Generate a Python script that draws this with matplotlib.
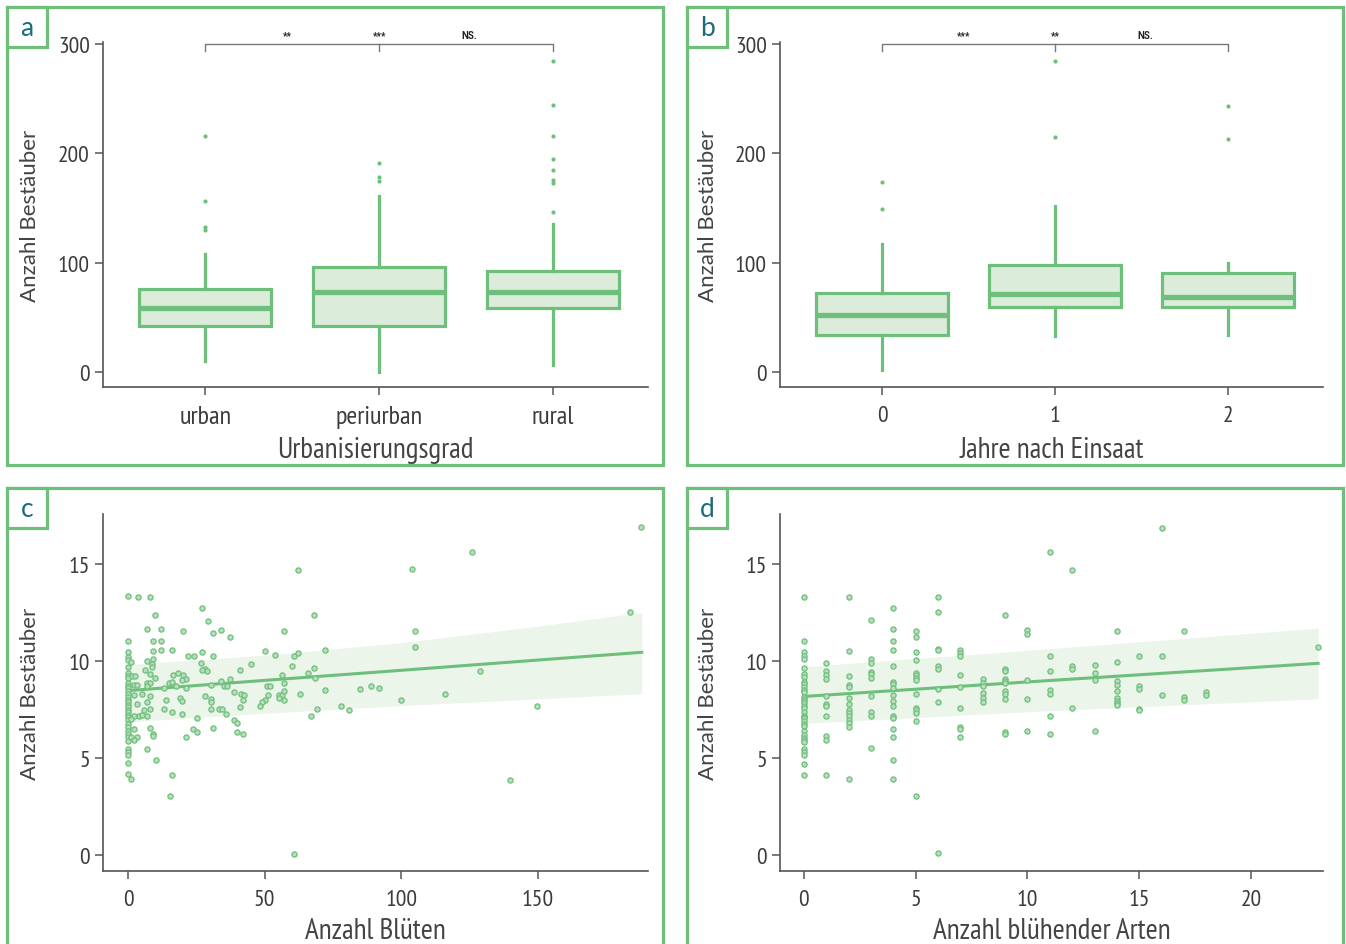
import numpy as np
import matplotlib
matplotlib.use('Agg')
import matplotlib.pyplot as plt
from matplotlib.patches import Rectangle

COND = ['PT Sans Narrow', 'Roboto Condensed', 'Fira Sans Condensed',
        'Liberation Sans Narrow', 'Roboto', 'DejaVu Sans']
REG = ['Lato', 'Open Sans', 'DejaVu Sans']

plt.rcParams.update({
    'font.family': COND,
    'font.size': 14,
    'axes.edgecolor': '#555555',
    'xtick.color': '#555555',
    'ytick.color': '#555555',
    'xtick.labelcolor': '#3c3c3c',
    'ytick.labelcolor': '#3c3c3c',
})

GREEN = '#6dbf7b'
FILL = '#dcecda'
BAND = '#ebf5ea'
TEAL = '#1a6b7c'

# ---- data: boxplots (whislo, q1, median, q3, whishi, fliers)
cat_a = ['urban', 'periurban', 'rural']
box_a = [
    (10, 42, 58, 76, 108, [130, 133, 156, 216]),
    (0, 42, 73, 96, 161, [175, 178, 191]),
    (6, 58, 73, 92, 135, [146, 173, 176, 185, 195, 216, 244, 285]),
]
sig_a = ['**', '***', 'NS.']

cat_b = ['0', '1', '2']
box_b = [
    (2, 34, 52, 72, 117, [149, 174]),
    (33, 59, 71, 98, 152, [215, 285]),
    (34, 59, 68, 90, 100, [213, 243]),
]
sig_b = ['***', '**', 'NS.']

# ---- data: panel c, Anzahl Blüten vs Anzahl Bestäuber
c_x0_y = [13.34, 11.03, 10.47, 10.19, 10.07, 9.67, 9.37, 9.24, 9.14, 8.87, 8.73, 8.61,
          8.44, 8.28, 8.13, 7.99, 7.87, 7.73, 7.61, 7.49, 7.35, 7.21, 7.09, 6.96, 6.75,
          6.58, 6.4, 6.23, 6.09, 5.89, 5.46, 5.32, 5.15, 4.72, 4.15]
c_x = [1.22, 3.78, 8.05, 10.0, 7.07, 12.2, 19.99, 27.07, 29.27, 31.1, 33.9, 9.02, 12.2,
       9.02, 12.2, 16.1, 22.07, 24.27, 27.07, 30.99, 26.83, 28.17, 29.0, 26.95, 6.95,
       9.02, 8.9, 8.9, 6.1, 8.17, 10.0, 1.34, 2.44, 2.2, 3.41, 7.07, 8.05, 7.07, 5.12,
       7.93, 2.32, 3.17, 6.95, 5.98, 8.05, 3.9, 5.12, 6.95, 2.32, 1.1, 13.17, 15.13,
       16.35, 18.43, 19.99, 21.34, 19.87, 16.22, 17.44, 21.1, 19.0, 19.6, 14.0, 13.17,
       16.1, 19.6, 25.24, 28.17, 30.24, 30.24, 30.37, 30.24, 33.17, 34.27, 33.9, 35.2,
       2.32, 1.22, 3.29, 2.32, 7.93, 9.27, 9.27, 6.95, 10.24, 1.22, 16.22, 15.5, 21.1,
       23.9, 25.1, 31.0,
       37.2, 62.3, 68.06, 56.96, 72.2, 50.0, 53.9, 60.74, 62.08, 45.1, 41.1, 60.1, 68.06,
       66.0, 56.2, 68.3, 37.2, 36.2, 56.96, 50.9, 51.96, 38.9, 41.2, 42.4, 42.2, 51.2,
       55.25, 56.35, 57.2, 55.25, 57.2, 63.0, 50.25, 49.0, 48.2, 41.1, 72.1, 35.97,
       69.15, 66.8, 38.9, 40.0, 40.0, 42.2, 60.86,
       187.8, 125.9, 104.0, 183.7, 105.1, 105.1, 129.0, 84.9, 89.0, 92.0, 100.0, 116.0,
       78.1, 80.9, 149.8, 139.9]
c_y = [9.93, 13.29, 13.29, 12.38, 11.64, 11.65, 11.55, 12.74, 12.08, 11.46, 11.62, 11.02,
       11.02, 10.52, 10.59, 10.55, 10.28, 10.24, 10.48, 10.28, 9.92, 9.57, 9.47, 9.55,
       10.02, 10.09, 9.86, 9.67, 9.54, 9.35, 9.14, 9.24, 9.24, 8.76, 8.76, 8.87, 8.85,
       8.73, 8.3, 8.19, 8.25, 7.76, 7.88, 7.47, 7.51, 7.16, 7.23, 7.16, 7.18, 7.02, 8.59,
       8.87, 9.28, 9.37, 9.28, 9.07, 9.02, 8.93, 8.71, 8.59, 8.07, 7.95, 7.99, 7.54, 7.37,
       7.28, 7.08, 8.21, 8.76, 8.06, 7.87, 7.54, 7.54, 7.54, 8.97, 8.71, 6.47, 6.09, 6.09,
       5.92, 6.56, 6.25, 6.15, 5.48, 4.89, 3.89, 4.12, 3.01, 6.08, 6.49, 6.34, 6.56,
       11.26, 14.68, 12.36, 11.55, 10.59, 10.52, 10.31, 10.28, 10.4, 9.83, 9.52, 9.73,
       9.62, 9.37, 9.26, 9.12, 9.07, 8.71, 8.87, 8.71, 8.69, 8.38, 8.32, 8.26, 7.97, 8.25,
       8.25, 8.25, 8.44, 8.07, 7.97, 8.32, 8.0, 7.87, 7.68, 7.64, 8.51, 7.28, 7.54, 7.14,
       6.94, 6.8, 6.33, 6.23, 0.04,
       16.92, 15.65, 14.73, 12.55, 11.55, 10.71, 9.47, 8.57, 8.69, 8.59, 8.0, 8.31,
       7.66, 7.45, 7.66, 3.88]
c_fit_x = [0, 50, 100, 150, 188]
c_fit_y = [8.47, 9.0, 9.52, 10.05, 10.45]
c_band_lo = [6.86, 7.3, 7.7, 8.05, 8.31]
c_band_hi = [9.82, 10.3, 10.95, 11.8, 12.51]

# ---- data: panel d, Anzahl blühender Arten vs Anzahl Bestäuber (per species count)
d_cols = {
    0: [13.3, 11.02, 10.45, 10.24, 10.1, 9.66, 9.33, 9.19, 8.93, 8.8, 8.67, 8.52, 8.4,
        8.16, 8.05, 7.95, 7.81, 7.69, 7.57, 7.35, 7.18, 7.1, 7.04, 6.9, 6.75, 6.63, 6.4,
        6.18, 6.04, 5.94, 5.83, 5.46, 5.28, 5.15, 4.7, 4.13],
    1: [9.91, 9.5, 9.26, 9.05, 8.18, 7.8, 7.66, 7.18, 6.11, 5.92, 4.13],
    2: [13.29, 10.52, 9.21, 8.76, 8.67, 8.09, 7.76, 7.47, 7.3, 7.14, 6.97, 6.8, 6.58, 3.92],
    3: [12.1, 10.1, 9.9, 9.45, 9.31, 9.12, 8.19, 7.35, 7.16, 5.49],
    4: [12.74, 11.67, 11.02, 10.57, 9.73, 8.93, 8.8, 8.62, 8.25, 7.95, 7.66, 7.18, 7.06,
        6.49, 6.08, 4.89, 3.89],
    5: [11.55, 11.22, 10.48, 10.04, 9.36, 9.29, 9.1, 9.04, 8.31, 7.6, 7.49, 7.31, 6.92, 3.03],
    6: [13.28, 12.53, 10.6, 10.58, 9.74, 9.59, 8.57, 7.88, 0.07],
    7: [10.57, 10.4, 10.28, 9.26, 8.66, 7.6, 6.61, 6.51, 6.08],
    8: [9.05, 8.86, 8.69, 8.35, 8.07, 7.88],
    9: [12.39, 9.6, 9.5, 9.07, 8.98, 8.84, 8.44, 8.32, 8.05, 6.33, 6.24],
    10: [11.61, 11.42, 9.02, 8.04, 6.4],
    11: [15.64, 10.28, 9.5, 8.49, 8.31, 7.14, 6.24],
    12: [14.71, 9.72, 9.59, 7.56],
    13: [9.81, 9.4, 9.0, 6.4],
    14: [11.57, 9.97, 8.98, 8.78, 8.47, 8.09, 7.93, 7.81, 7.71],
    15: [10.24, 8.73, 8.55, 7.54, 7.45],
    16: [16.89, 10.24, 8.26],
    17: [11.53, 8.12, 7.99],
    18: [8.42, 8.24],
    23: [10.71],
}
d_fit_x = [0, 10, 23]
d_fit_y = [8.17, 8.92, 9.88]
d_band_lo = [6.78, 7.38, 8.05]
d_band_hi = [9.71, 10.55, 11.7]

W, H = 1346, 945
fig = plt.figure(figsize=(W / 100, H / 100), dpi=100)


def fx(px):
    return px / W


def fy(py):
    return 1 - py / H


def frame(x0, y0, x1, y1, letter):
    fig.add_artist(Rectangle((fx(x0), fy(y1)), fx(x1 - x0), (y1 - y0) / H,
                             transform=fig.transFigure, fill=False,
                             edgecolor=GREEN, lw=2.3, clip_on=False))
    fig.add_artist(Rectangle((fx(x0), fy(y0 + 40)), fx(40), 40 / H,
                             transform=fig.transFigure, facecolor='white',
                             edgecolor=GREEN, lw=2.3, clip_on=False))
    fig.text(fx(x0 + 20), fy(y0 + 21), letter, color=TEAL, fontsize=19,
             ha='center', va='center', family=REG)


def style(ax):
    for s in ('top', 'right'):
        ax.spines[s].set_visible(False)
    ax.spines['left'].set_linewidth(1.2)
    ax.spines['bottom'].set_linewidth(1.2)
    ax.tick_params(direction='out', length=6, width=1.1, labelsize=17)


def labels(ax, xlabel, xl_y):
    ax.set_ylabel('Anzahl Bestäuber', fontsize=16, color='#444444', family=REG)
    ax.yaxis.set_label_coords(-0.115, 0.5)
    ax.set_xlabel(xlabel, fontsize=21, color='#444444')
    ax.xaxis.set_label_coords(0.5, xl_y)


def boxpanel(ax, cats, stats, sigs, xlabel, xtick_size):
    bx = []
    for (lo, q1, med, q3, hi, fl), c in zip(stats, cats):
        bx.append(dict(whislo=lo, q1=q1, med=med, q3=q3, whishi=hi, fliers=fl, label=c))
    ax.bxp(bx, positions=range(len(cats)), widths=0.76, patch_artist=True, showcaps=False,
           boxprops=dict(facecolor=FILL, edgecolor=GREEN, lw=2.3),
           whiskerprops=dict(color=GREEN, lw=2.3),
           medianprops=dict(color=GREEN, lw=3.8),
           flierprops=dict(marker='o', markersize=3, markerfacecolor=GREEN,
                           markeredgecolor='none'))
    # significance bracket
    ax.plot([0, 0, 2, 2], [294, 300, 300, 294], color='#777777', lw=1)
    ax.plot([1, 1], [300, 294], color='#777777', lw=1)
    for xp, s in zip([0.47, 1.0, 1.52], sigs):
        ax.text(xp, 304, s, ha='center', va='bottom', fontsize=7, fontweight='bold',
                color='#222222', family=['Roboto', 'DejaVu Sans'])
    ax.set_xlim(-0.59, 2.548)
    ax.set_ylim(-14, 302)
    ax.set_yticks([0, 100, 200, 300])
    ax.set_xticks(range(len(cats)))
    ax.set_xticklabels(cats)
    style(ax)
    ax.tick_params(axis='x', pad=7, labelsize=xtick_size)
    labels(ax, xlabel, -0.142)


def scatterpanel(ax, x, y, fx_, fy_, lo, hi, xlim, xticks, xlabel):
    ax.fill_between(fx_, lo, hi, color=BAND, lw=0, zorder=1)
    ax.plot(fx_, fy_, color=GREEN, lw=2.2, zorder=2)
    ax.scatter(x, y, s=14, facecolor='#b8debc', edgecolor=GREEN, linewidth=0.9, zorder=3)
    ax.set_xlim(*xlim)
    ax.set_ylim(-0.84, 17.59)
    ax.set_yticks([0, 5, 10, 15])
    ax.set_xticks(xticks)
    style(ax)
    ax.tick_params(axis='x', pad=7)
    labels(ax, xlabel, -0.128)


frame(7, 8, 663, 466, 'a')
frame(687, 8, 1343, 466, 'b')
frame(7, 489, 663, 960, 'c')
frame(687, 489, 1343, 960, 'd')

ax_a = fig.add_axes([fx(103), fy(388), fx(545), 345 / H])
ax_b = fig.add_axes([fx(780), fy(388), fx(543), 345 / H])
ax_c = fig.add_axes([fx(103), fy(872), fx(545), 357 / H])
ax_d = fig.add_axes([fx(780), fy(872), fx(543), 357 / H])

boxpanel(ax_a, cat_a, box_a, sig_a, 'Urbanisierungsgrad', 19)
boxpanel(ax_b, cat_b, box_b, sig_b, 'Jahre nach Einsaat', 17)

cx = [0] * len(c_x0_y) + c_x
cy = c_x0_y + c_y
scatterpanel(ax_c, cx, cy, c_fit_x, c_fit_y, c_band_lo, c_band_hi,
             (-9.15, 190.3), [0, 50, 100, 150], 'Anzahl Blüten')

dx, dy = [], []
for k, vals in d_cols.items():
    dx += [k] * len(vals)
    dy += vals
scatterpanel(ax_d, dx, dy, d_fit_x, d_fit_y, d_band_lo, d_band_hi,
             (-1.07, 23.22), [0, 5, 10, 15, 20], 'Anzahl blühender Arten')

fig.savefig('out.png', dpi=100)
